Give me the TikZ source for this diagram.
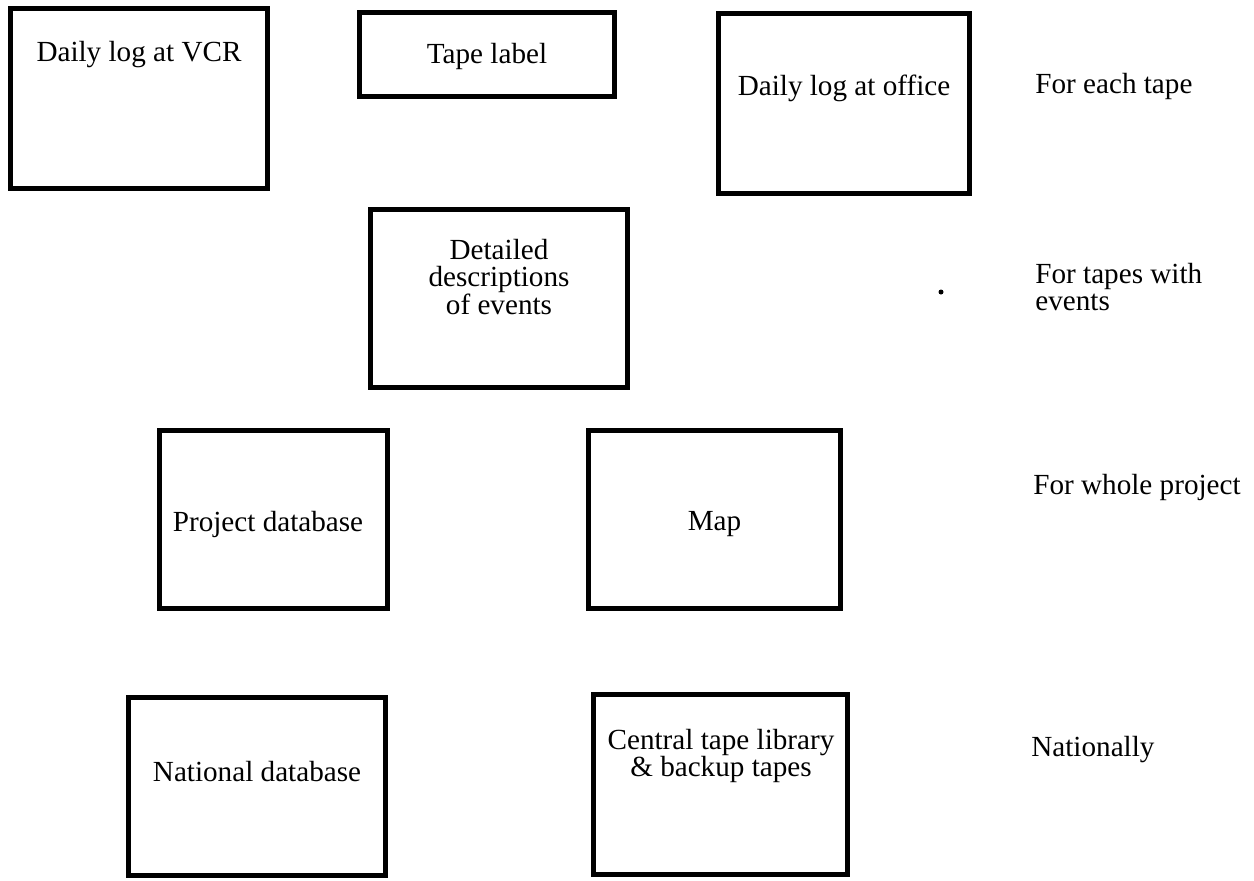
\documentclass[tikz,border=0pt]{standalone}
\usepackage{fontspec}
\setmainfont{Liberation Serif}
\tikzstyle{box} = [rectangle, draw=black, line width=3pt, inner sep=0pt]
\tikzstyle{txt} = [font=\fontsize{16.6}{15.6}\selectfont, align=center, inner sep=0pt]
\tikzstyle{side} = [txt, anchor=west, align=left]

\begin{document}
\begin{tikzpicture}[x=0.02cm, y=-0.02cm]
    \useasboundingbox (0,0) rectangle (1254,880);
    % for each tape
    \node[box, minimum width=5.14cm, minimum height=3.6cm] (vcr) at (139,98.5) {};
    \node[txt] (vcrtxt) at (139,55) {Daily log at VCR};
    \node[box, minimum width=5.1cm, minimum height=1.68cm] (tape) at (487,54.5) {};
    \node[txt] (tapetxt) at (487,56) {Tape label};
    \node[box, minimum width=5.02cm, minimum height=3.6cm] (office) at (844,103.5) {};
    \node[txt] (officetxt) at (844,88) {Daily log at office};
    \node[side] (each) at (1035,86) {For each tape};
    % for tapes with events
    \node[box, minimum width=5.14cm, minimum height=3.56cm] (events) at (499,298.5) {};
    \node[txt] (eventstxt) at (499,277) {Detailed\\descriptions\\of events};
    \node[side] (withev) at (1035,287) {For tapes with\\events};
    \fill (941,292) circle (0.05cm);
    % for whole project
    \node[box, minimum width=4.56cm, minimum height=3.56cm] (projdb) at (273.5,519.5) {};
    \node[txt] (projdbtxt) at (268,524) {Project database};
    \node[box, minimum width=5.04cm, minimum height=3.56cm] (map) at (714.5,519.5) {};
    \node[txt] (maptxt) at (714.5,524) {Map};
    \node[side] (whole) at (1033,487) {For whole project};
    % nationally
    \node[box, minimum width=5.14cm, minimum height=3.56cm] (natdb) at (257,786.5) {};
    \node[txt] (natdbtxt) at (257,772) {National database};
    \node[box, minimum width=5.08cm, minimum height=3.6cm] (library) at (720.5,784.5) {};
    \node[txt] (librarytxt) at (721,756) {Central tape library\\\& backup tapes};
    \node[side] (nation) at (1031,750) {Nationally};
\end{tikzpicture}
\end{document}
